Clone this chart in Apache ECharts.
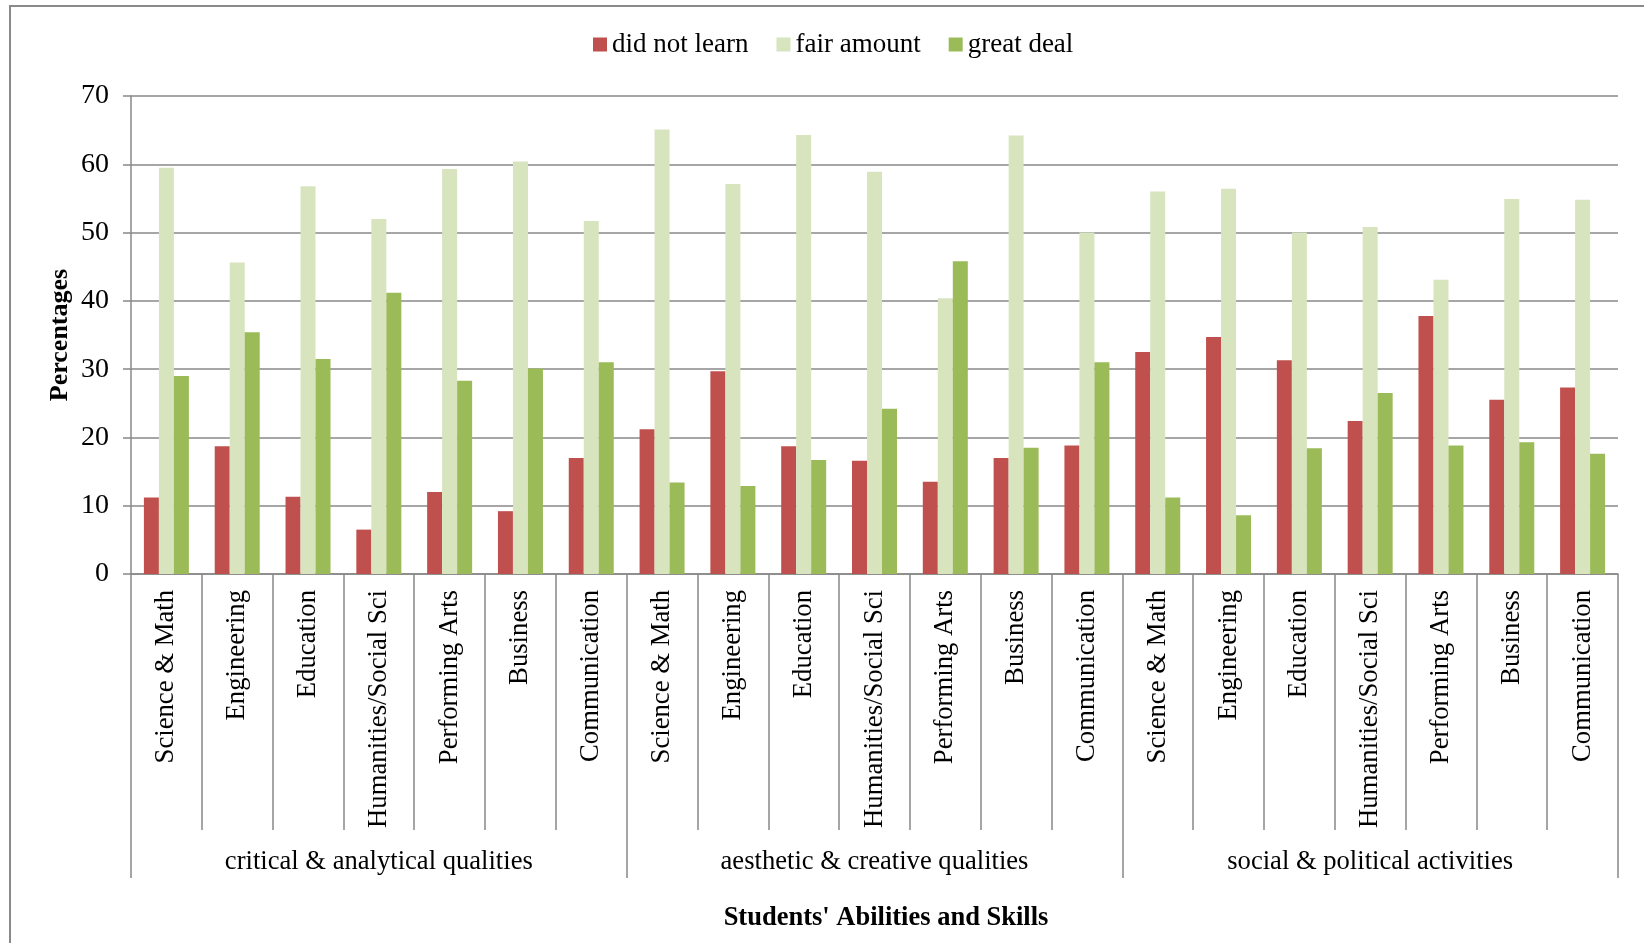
<!DOCTYPE html>
<html>
<head>
<meta charset="utf-8">
<script src="https://cdn.jsdelivr.net/npm/echarts@6/dist/echarts.min.js"></script>
<style>
html,body{margin:0;padding:0;background:#fff;}
#chart{width:1644px;height:943px;}
</style>
</head>
<body>
<div id="chart"></div>
<script>
const categories = ['Science & Math','Engineering','Education','Humanities/Social Sci','Performing Arts','Business','Communication',
  'Science & Math','Engineering','Education','Humanities/Social Sci','Performing Arts','Business','Communication',
  'Science & Math','Engineering','Education','Humanities/Social Sci','Performing Arts','Business','Communication'];
const groups = ['critical & analytical qualities','aesthetic & creative qualities','social & political activities'];
const seriesNames = ['did not learn','fair amount','great deal'];
const didNotLearn = [11.2,18.7,11.3,6.5,12.0,9.2,17.0, 21.2,29.7,18.7,16.6,13.5,17.0,18.8, 32.5,34.7,31.3,22.4,37.8,25.5,27.3];
const fairAmount  = [59.5,45.6,56.8,52.0,59.3,60.4,51.7, 65.1,57.1,64.3,58.9,40.4,64.2,50.0, 56.0,56.4,50.0,50.8,43.1,54.9,54.8];
const greatDeal   = [29.0,35.4,31.5,41.2,28.3,30.1,31.0, 13.4,12.9,16.7,24.2,45.8,18.5,31.0, 11.2,8.6,18.4,26.5,18.8,19.3,17.6];
const yTicks = [0,10,20,30,40,50,60,70];
const yTitle = 'Percentages';
const xTitle = "Students' Abilities and Skills";

const FONT = '"Liberation Serif","Times New Roman",serif';
const GRAY = '#888888';
const colors = ['#C0504D','#D7E4BD','#9BBB59'];

const chart = echarts.init(document.getElementById('chart'));
const mk = (name, data, i) => ({
  name, type:'bar', data, xAxisIndex:0, yAxisIndex:0,
  barWidth:15, barGap:'0%',
  itemStyle:{color:colors[i]}
});
chart.setOption({
  animation:false,
  backgroundColor:'#fff',
  color:colors,
  legend:{
    data:seriesNames, left:593, top:31, padding:0,
    itemWidth:14, itemHeight:14, itemGap:28,
    icon:'rect',
    textStyle:{fontFamily:FONT, fontSize:27, color:'#000', padding:[0,0,0,0]}
  },
  grid:{left:131, right:26, top:96, bottom:369, containLabel:false},
  xAxis:[
    {
      type:'category', data:categories, position:'bottom', offset:0,
      axisLine:{show:true, lineStyle:{color:GRAY, width:1.5}},
      axisTick:{show:true, length:256, interval:0, alignWithLabel:false, lineStyle:{color:GRAY, width:1.5}},
      axisLabel:{interval:0, rotate:90, margin:16, fontFamily:FONT, fontSize:26.7, color:'#000'}
    },
    {
      type:'category', data:groups, position:'bottom', offset:0,
      axisLine:{show:false},
      axisTick:{show:true, length:304, interval:0, alignWithLabel:false, lineStyle:{color:GRAY, width:1.5}},
      axisLabel:{interval:0, margin:275, fontFamily:FONT, fontSize:26.6, color:'#000'}
    }
  ],
  yAxis:{
    type:'value', min:yTicks[0], max:yTicks[yTicks.length-1], interval:10,
    axisLine:{show:true, lineStyle:{color:GRAY, width:1.5}},
    axisTick:{show:true, length:8, lineStyle:{color:GRAY, width:1.5}},
    splitLine:{show:true, lineStyle:{color:GRAY, width:1.5}},
    axisLabel:{margin:22, fontFamily:FONT, fontSize:28, color:'#000'}
  },
  series:[
    mk(seriesNames[0], didNotLearn, 0),
    mk(seriesNames[1], fairAmount, 1),
    mk(seriesNames[2], greatDeal, 2),
    {type:'bar', xAxisIndex:1, data:[], silent:true}
  ],
  graphic:[
    {type:'rect', shape:{x:10, y:6, width:1700, height:1000}, style:{fill:'none', stroke:'#8a8a8a', lineWidth:2}, silent:true},
    {type:'text', x:60, y:335, rotation:Math.PI/2,
      style:{text:yTitle, fontFamily:FONT, fontSize:26, fontWeight:'bold', fill:'#000', align:'center', verticalAlign:'middle'}},
    {type:'text', x:886, y:918,
      style:{text:xTitle, fontFamily:FONT, fontSize:26.5, fontWeight:'bold', fill:'#000', align:'center', verticalAlign:'middle'}}
  ]
});
</script>
</body>
</html>
